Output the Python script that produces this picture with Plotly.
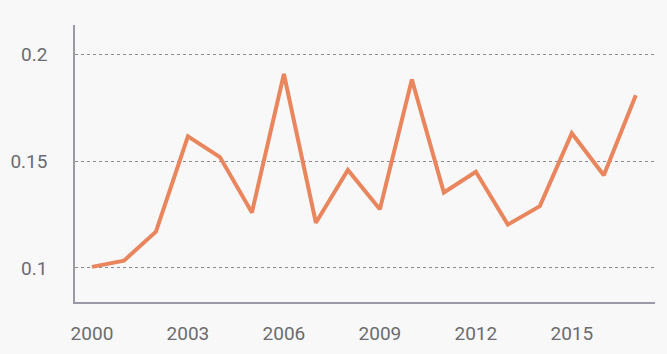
import plotly.graph_objects as go

years = list(range(2000, 2018))
values = [0.1005, 0.1034, 0.117, 0.1617, 0.152, 0.126, 0.191, 0.1212, 0.146,
          0.1275, 0.1884, 0.1354, 0.1451, 0.1203, 0.129, 0.1632, 0.1435, 0.181]
x_ticks = [2000, 2003, 2006, 2009, 2012, 2015]
y_ticks = [0.1, 0.15, 0.2]

fig = go.Figure()
fig.add_trace(go.Scatter(x=years, y=values, mode="lines",
                         line=dict(color="#E9865E", width=4), hoverinfo="skip"))

font = dict(family="Roboto, Arial, sans-serif", size=19, color="#6b6b70")
fig.update_layout(
    width=667, height=354,
    margin=dict(l=75, r=12, t=25, b=52),
    paper_bgcolor="#f8f8f9", plot_bgcolor="#f8f8f9",
    showlegend=False,
    font=font,
)
fig.update_xaxes(range=[1999.47, 2017.6], tickvals=x_ticks,
                 ticktext=[str(v) for v in x_ticks],
                 showgrid=False, zeroline=False, automargin=False,
                 showline=True, linecolor="#9a9aa6", linewidth=1.5,
                 ticks="", ticklabelstandoff=13, tickfont=font)
fig.update_yaxes(range=[0.084, 0.214], tickvals=y_ticks,
                 ticktext=["0.1", "0.15", "0.2"],
                 showgrid=True, gridcolor="#8a8a95", griddash="dot", gridwidth=1,
                 zeroline=False, automargin=False,
                 showline=True, linecolor="#9a9aa6", linewidth=1.5,
                 ticks="", ticklabelstandoff=22, tickfont=font)

fig.write_html("out.html")
